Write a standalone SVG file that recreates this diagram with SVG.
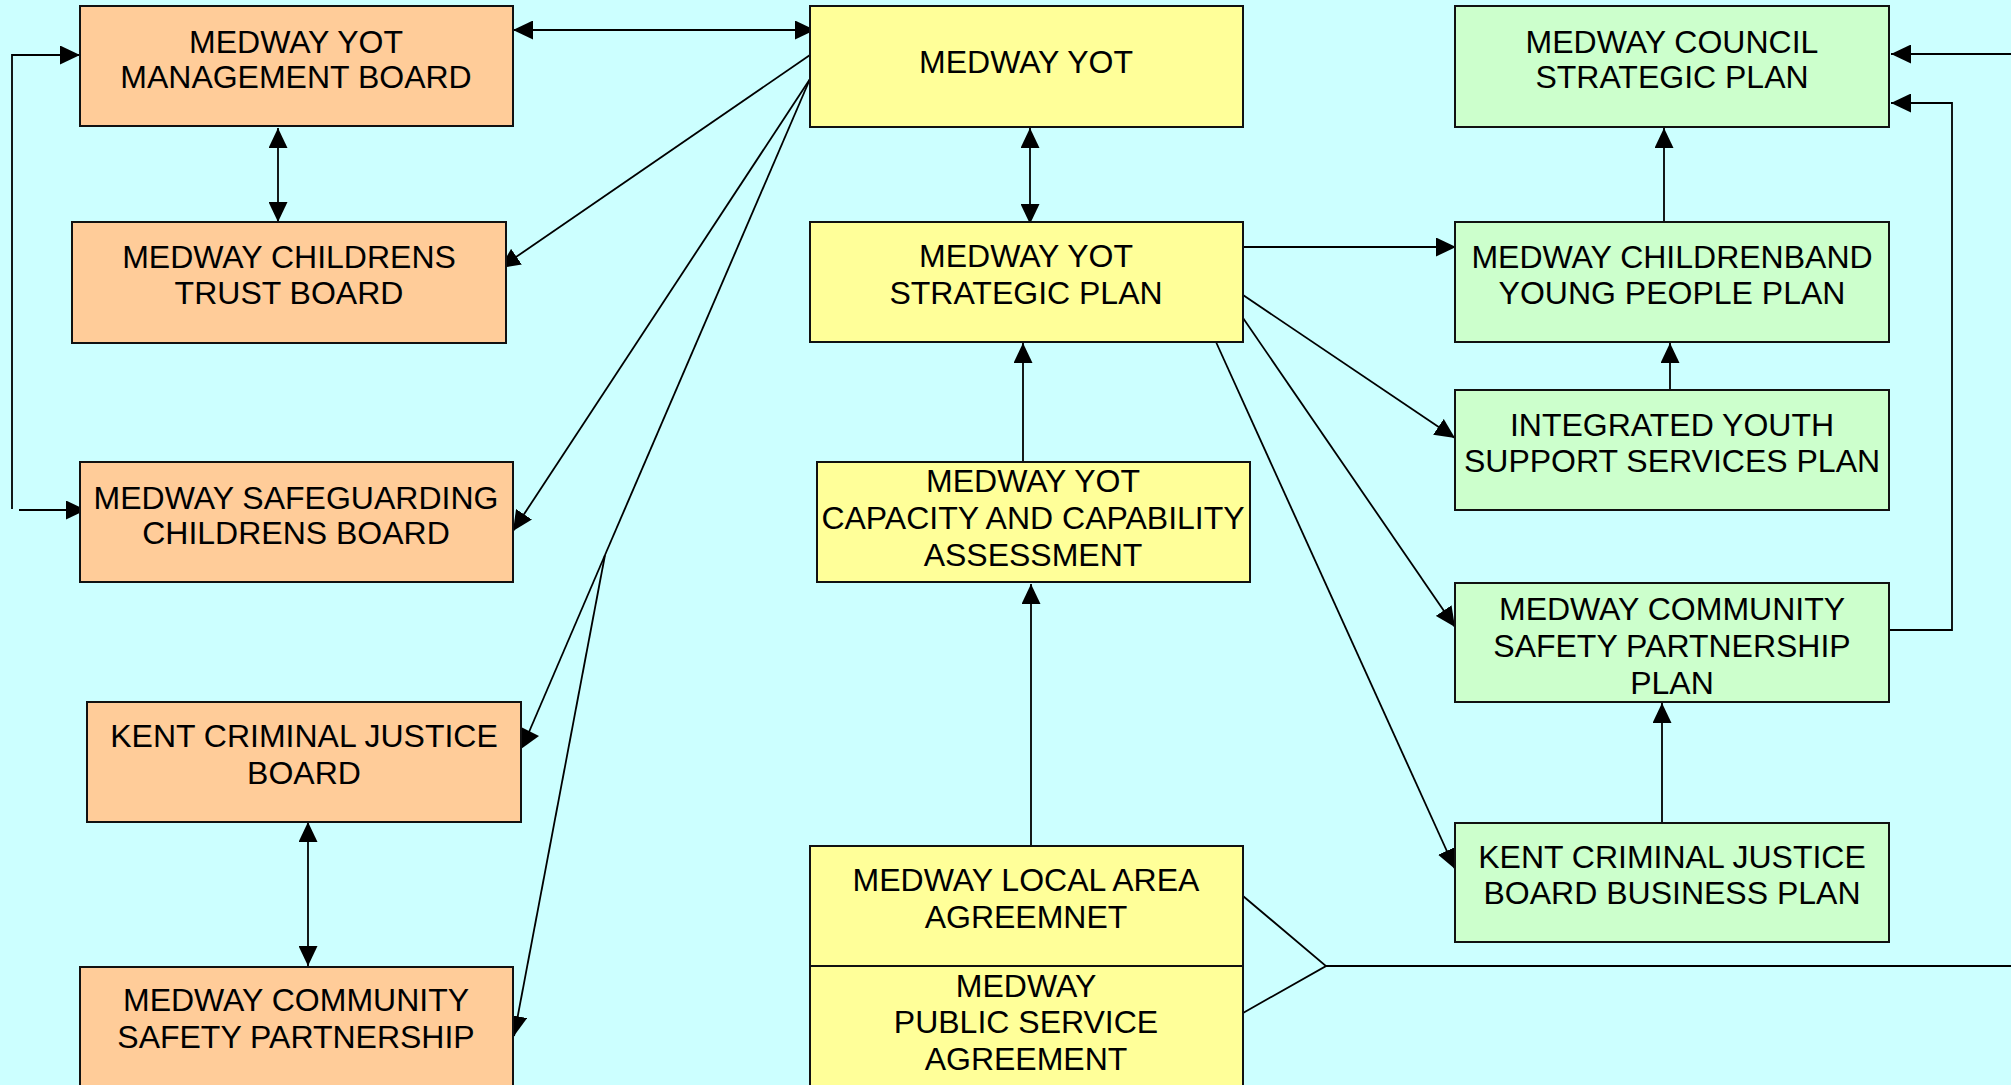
<svg xmlns="http://www.w3.org/2000/svg" width="2011" height="1085" viewBox="0 0 2011 1085">
<style>
.o{fill:#FFCC99;stroke:#111;stroke-width:2}
.y{fill:#FFFF99;stroke:#111;stroke-width:2}
.g{fill:#CCFFCC;stroke:#111;stroke-width:2}
text{font-family:"Liberation Sans",Arial,sans-serif;font-size:32px;fill:#000;text-anchor:middle}
.c line,.c polyline{stroke:#000;stroke-width:1.8;fill:none}
.e{marker-end:url(#ah)}
.b{marker-end:url(#ah);marker-start:url(#ah)}
</style>
<defs>
<marker id="ah" markerUnits="userSpaceOnUse" markerWidth="21" markerHeight="19" refX="20" refY="9.5" orient="auto-start-reverse">
<path d="M0,0 L20,9.5 L0,19 Z" fill="#000"/>
</marker>
</defs>
<rect width="2011" height="1085" fill="#CCFFFF"/>
<g class="c">
<line class="b" x1="513" y1="30" x2="815" y2="30"/>
<line class="b" x1="278" y1="128" x2="278" y2="222"/>
<polyline class="e" points="12,509 12,55 80,55"/>
<line class="e" x1="19" y1="510" x2="86" y2="510"/>
<line class="e" x1="810" y1="55" x2="500" y2="268"/>
<line class="e" x1="810" y1="79" x2="513" y2="531"/>
<line x1="810" y1="79" x2="605" y2="555"/>
<line x1="605" y1="555" x2="529" y2="732"/>
<polygon points="521,727 539,736 521,749" fill="#000"/>
<line class="e" x1="605" y1="555" x2="514" y2="1036"/>
<line class="b" x1="1030" y1="128" x2="1030" y2="224"/>
<line class="b" x1="308" y1="822" x2="308" y2="966"/>
<line class="e" x1="1023" y1="462" x2="1023" y2="343"/>
<line class="e" x1="1031" y1="846" x2="1031" y2="584"/>
<line class="e" x1="1238" y1="247" x2="1456" y2="247"/>
<line class="e" x1="1243" y1="295" x2="1455" y2="438"/>
<line class="e" x1="1243" y1="318" x2="1455" y2="627"/>
<line class="e" x1="1216" y1="342" x2="1455" y2="869"/>
<line class="e" x1="1664" y1="222" x2="1664" y2="128"/>
<line class="e" x1="1670" y1="390" x2="1670" y2="343"/>
<line class="e" x1="1662" y1="822" x2="1662" y2="703"/>
<polyline class="e" points="1882,630 1952,630 1952,103 1891,103"/>
<line class="e" x1="2011" y1="54" x2="1891" y2="54"/>
<polyline points="1243,896 1326,966 1243,1013"/>
<line x1="1326" y1="966" x2="2011" y2="966"/>
</g>
<g id="mgmt"><rect class="o" x="80" y="6" width="433" height="120"/><text x="296" y="53">MEDWAY YOT</text><text x="296" y="88">MANAGEMENT BOARD</text></g>
<g id="trust"><rect class="o" x="72" y="222" width="434" height="121"/><text x="289" y="268">MEDWAY CHILDRENS</text><text x="289" y="304">TRUST BOARD</text></g>
<g id="safeguarding"><rect class="o" x="80" y="462" width="433" height="120"/><text x="296" y="509">MEDWAY SAFEGUARDING</text><text x="296" y="544">CHILDRENS BOARD</text></g>
<g id="kentcjb"><rect class="o" x="87" y="702" width="434" height="120"/><text x="304" y="747">KENT CRIMINAL JUSTICE</text><text x="304" y="784">BOARD</text></g>
<g id="mcsp"><rect class="o" x="80" y="967" width="433" height="130"/><text x="296" y="1011">MEDWAY COMMUNITY</text><text x="296" y="1048">SAFETY PARTNERSHIP</text></g>
<g id="yot"><rect class="y" x="810" y="6" width="433" height="121"/><text x="1026" y="73">MEDWAY YOT</text></g>
<g id="strategic"><rect class="y" x="810" y="222" width="433" height="120"/><text x="1026" y="267">MEDWAY YOT</text><text x="1026" y="304">STRATEGIC PLAN</text></g>
<g id="capacity"><rect class="y" x="817" y="462" width="433" height="120"/><text x="1033" y="492">MEDWAY YOT</text><text x="1033" y="529">CAPACITY AND CAPABILITY</text><text x="1033" y="566">ASSESSMENT</text></g>
<g id="laa"><rect class="y" x="810" y="846" width="433" height="120"/><text x="1026" y="891">MEDWAY LOCAL AREA</text><text x="1026" y="928">AGREEMNET</text></g>
<g id="psa"><rect class="y" x="810" y="966" width="433" height="130"/><text x="1026" y="997">MEDWAY</text><text x="1026" y="1033">PUBLIC SERVICE</text><text x="1026" y="1070">AGREEMENT</text></g>
<g id="council"><rect class="g" x="1455" y="6" width="434" height="121"/><text x="1672" y="53">MEDWAY COUNCIL</text><text x="1672" y="88">STRATEGIC PLAN</text></g>
<g id="cyp"><rect class="g" x="1455" y="222" width="434" height="120"/><text x="1672" y="268">MEDWAY CHILDRENBAND</text><text x="1672" y="304">YOUNG PEOPLE PLAN</text></g>
<g id="integrated"><rect class="g" x="1455" y="390" width="434" height="120"/><text x="1672" y="436">INTEGRATED YOUTH</text><text x="1672" y="472">SUPPORT SERVICES PLAN</text></g>
<g id="mcspplan"><rect class="g" x="1455" y="583" width="434" height="119"/><text x="1672" y="620">MEDWAY COMMUNITY</text><text x="1672" y="657">SAFETY PARTNERSHIP</text><text x="1672" y="694">PLAN</text></g>
<g id="kcjbplan"><rect class="g" x="1455" y="823" width="434" height="119"/><text x="1672" y="868">KENT CRIMINAL JUSTICE</text><text x="1672" y="904">BOARD BUSINESS PLAN</text></g>
</svg>
